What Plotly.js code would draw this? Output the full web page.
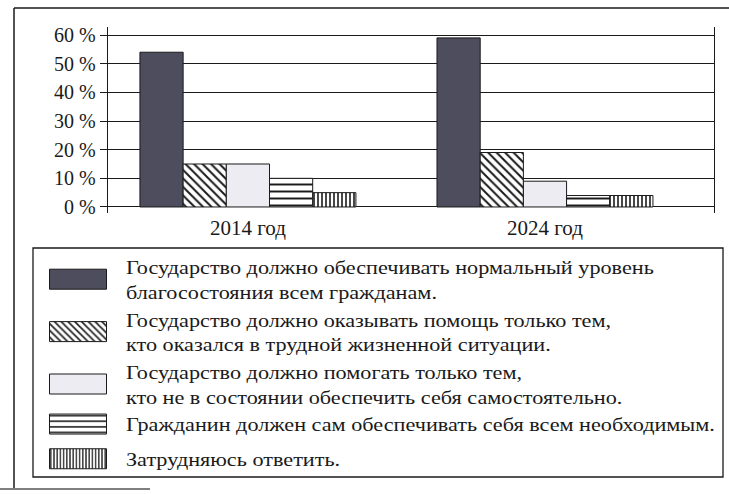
<!DOCTYPE html>
<html>
<head>
<meta charset="utf-8">
<script src="https://cdn.plot.ly/plotly-3.0.1.min.js"></script>
<style>
  html, body { margin: 0; padding: 0; background: #ffffff; }
  #chart { width: 729px; height: 494px; }
  #chart .legend .legendtext {
    transform-box: fill-box;
    transform-origin: left center;
    transform: scaleX(1.17);
  }
</style>
</head>
<body>
<div id="chart"></div>
<script>
const categories = ["2014 год", "2024 год"];
const seriesNames = [
  "Государство должно обеспечивать нормальный уровень<br>благосостояния всем гражданам.",
  "Государство должно оказывать помощь только тем,<br>кто оказался в трудной жизненной ситуации.",
  "Государство должно помогать только тем,<br>кто не в состоянии обеспечить себя самостоятельно.",
  "Гражданин должен сам обеспечивать себя всем необходимым.",
  "Затрудняюсь ответить."
];
const normalLevel = [54, 59];
const helpHardship = [15, 19];
const helpUnable = [15, 9];
const selfProvide = [10, 4];
const hardToSay = [5, 4];
const yTickVals = [0, 10, 20, 30, 40, 50, 60];
const yTickText = ["0 %", "10 %", "20 %", "30 %", "40 %", "50 %", "60 %"];

const seriesValues = [normalLevel, helpHardship, helpUnable, selfProvide, hardToSay];
const styles = [
  {color: "#4d4d5e", pattern: {shape: ""}, group: "a"},
  {color: "#ffffff", pattern: {shape: "\\", fgcolor: "#1a1a1a", bgcolor: "#ffffff", size: 6, solidity: 0.33}, group: "a"},
  {color: "#ececf2", pattern: {shape: ""}, group: "a"},
  {color: "#ffffff", pattern: {shape: "-", fgcolor: "#1a1a1a", bgcolor: "#ffffff", size: 7, solidity: 0.28}, group: "a"},
  {color: "#ffffff", pattern: {shape: "|", fgcolor: "#1a1a1a", bgcolor: "#ffffff", size: 4, solidity: 0.4}, group: "b"}
];

const serif = "Liberation Serif, Times New Roman, serif";

const traces = seriesValues.map((vals, i) => ({
  type: "bar",
  name: seriesNames[i],
  x: categories,
  y: vals,
  legendgroup: styles[i].group,
  marker: {
    color: styles[i].color,
    pattern: styles[i].pattern,
    line: {color: "#1a1a1a", width: 1}
  },
  hoverinfo: "x+y+name"
}));

// pixel helpers for decorations (plot area: x 108..714, y 27..213)
const PX0 = 108, PW = 606, PY1 = 213, PH = 186;
const px = v => (v - PX0) / PW;
const py = v => (PY1 - v) / PH;

const layout = {
  width: 729,
  height: 494,
  margin: {l: 108, r: 15, t: 27, b: 281},
  paper_bgcolor: "#ffffff",
  plot_bgcolor: "#ffffff",
  barmode: "group",
  bargap: 0.273,
  bargroupgap: 0,
  font: {family: serif, color: "#1a1a1a", size: 20},
  showlegend: true,
  legend: {
    x: px(30),
    y: py(248),
    xanchor: "left",
    yanchor: "top",
    bgcolor: "rgba(0,0,0,0)",
    borderwidth: 0,
    font: {family: serif, size: 19, color: "#1a1a1a"},
    itemwidth: 86,
    traceorder: "grouped",
    tracegroupgap: 7
  },
  xaxis: {
    type: "category",
    range: [-0.471, 1.569],
    showgrid: false,
    zeroline: false,
    showline: false,
    ticks: "",
    tickfont: {family: serif, size: 21, color: "#1a1a1a"},
    fixedrange: true
  },
  yaxis: {
    range: [-2.1, 62.8],
    tickvals: yTickVals,
    ticktext: yTickText,
    showgrid: true,
    gridcolor: "#1a1a1a",
    gridwidth: 1,
    zeroline: true,
    zerolinecolor: "#1a1a1a",
    zerolinewidth: 1,
    showline: true,
    linecolor: "#1a1a1a",
    linewidth: 1.3,
    mirror: true,
    ticks: "outside",
    ticklen: 7,
    tickcolor: "#1a1a1a",
    tickfont: {family: serif, size: 20, color: "#1a1a1a"},
    fixedrange: true
  },
  shapes: [
    {type: "line", xref: "paper", yref: "paper", x0: px(14), x1: px(735), y0: py(8), y1: py(8), line: {color: "#1a1a1a", width: 1.5}},
    {type: "line", xref: "paper", yref: "paper", x0: px(14), x1: px(14), y0: py(8), y1: py(488), line: {color: "#1a1a1a", width: 1.5}},
    {type: "line", xref: "paper", yref: "paper", x0: px(0), x1: px(150), y0: py(489), y1: py(489), line: {color: "#555555", width: 1.5}},
    {type: "rect", xref: "paper", yref: "paper", x0: px(33), x1: px(723), y0: py(248), y1: py(477), line: {color: "#1a1a1a", width: 1.3}, fillcolor: "rgba(0,0,0,0)"}
  ]
};

function fixLegend() {
  document.querySelectorAll("#chart .legend .traces .legendpoints path").forEach(p => {
    p.setAttribute("d", "M-28.5,10H28.5V-10H-28.5Z");
  });
  document.querySelectorAll("#chart .legend [clip-path]").forEach(el => {
    el.removeAttribute("clip-path");
  });
}

Plotly.newPlot("chart", traces, layout, {displayModeBar: false, staticPlot: true}).then(gd => {
  fixLegend();
  gd.on("plotly_afterplot", fixLegend);
});
</script>
</body>
</html>
